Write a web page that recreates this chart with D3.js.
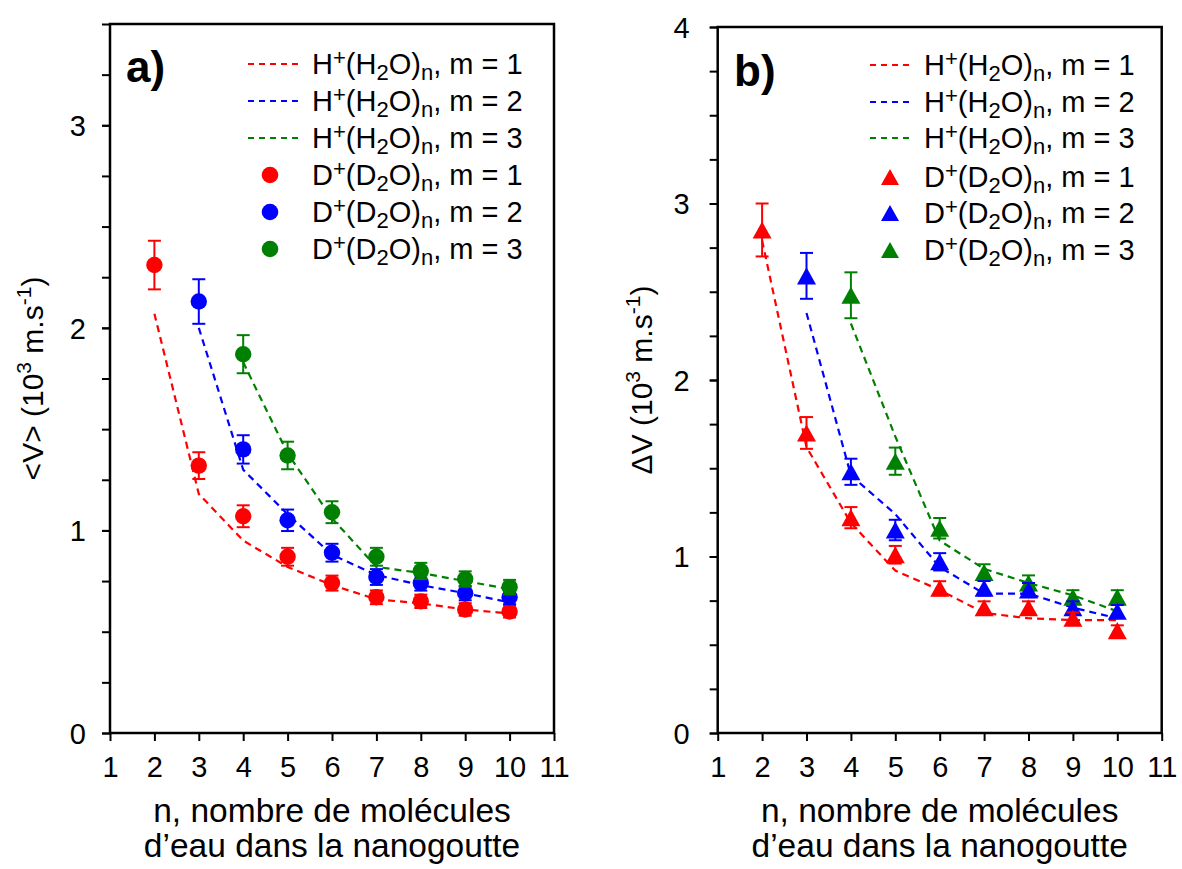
<!DOCTYPE html>
<html><head><meta charset="utf-8">
<script src="https://cdn.jsdelivr.net/npm/d3@7"></script>
<style>
body{margin:0;background:#fff}
svg{display:block}
text{font-family:"Liberation Sans",Arial,Helvetica,sans-serif;fill:#000}
</style>
</head><body>
<svg id="c" width="1182" height="869"></svg>
<script>
// ---------- data ----------
const nTicks = [1,2,3,4,5,6,7,8,9,10,11];
const yTicksA = [0,1,2,3];
const yTicksB = [0,1,2,3,4];
const minorA = [0,0.25,0.5,0.75,1,1.25,1.5,1.75,2,2.25,2.5,2.75,3,3.25,3.5];
const minorB = [0,0.25,0.5,0.75,1,1.25,1.5,1.75,2,2.25,2.5,2.75,3,3.25,3.5,3.75,4];
const n1 = [2,3,4,5,6,7,8,9,10];
const n2 = [3,4,5,6,7,8,9,10];
const n3 = [4,5,6,7,8,9,10];
const mLabels = ["1","2","3"];

// panel a) <V>
const aH1 = [2.07,1.18,0.95,0.82,0.73,0.66,0.64,0.61,0.59];
const aH2 = [2.00,1.30,1.08,0.88,0.78,0.73,0.69,0.645];
const aH3 = [1.83,1.38,1.06,0.82,0.79,0.75,0.71];
const aD1 = [2.31,1.32,1.07,0.87,0.74,0.67,0.65,0.61,0.60];
const aD1err = [0.12,0.066,0.054,0.044,0.037,0.034,0.033,0.031,0.03];
const aD2 = [2.13,1.40,1.05,0.89,0.77,0.74,0.69,0.67];
const aD2err = [0.11,0.07,0.053,0.044,0.039,0.037,0.035,0.034];
const aD3 = [1.87,1.37,1.09,0.87,0.80,0.76,0.72];
const aD3err = [0.094,0.068,0.054,0.044,0.04,0.038,0.036];

// panel b) deltaV
const bH1 = [2.79,1.62,1.19,0.92,0.81,0.68,0.65,0.64,0.64];
const bH2 = [2.38,1.46,1.24,0.94,0.79,0.79,0.71,0.65];
const bH3 = [2.32,1.68,1.09,0.93,0.85,0.78,0.69];
const bD1 = [2.85,1.70,1.22,1.01,0.82,0.71,0.71,0.65,0.58];
const bD1err = [0.15,0.09,0.06,0.05,0.04,0.036,0.036,0.033,0.03];
const bD2 = [2.59,1.48,1.15,0.97,0.82,0.81,0.71,0.69];
const bD2err = [0.13,0.074,0.058,0.049,0.041,0.04,0.036,0.035];
const bD3 = [2.48,1.54,1.16,0.91,0.85,0.77,0.77];
const bD3err = [0.13,0.077,0.058,0.046,0.043,0.039,0.039];

// ---------- drawing ----------
const svg = d3.select('#c');
const colors = ['#ff0000','#0000ff','#008000'];
const DASH = '7,5';
const LFS = 29;

function zip(ns, vs, es){ return ns.map((n,i)=>({n:n, v:vs[i], e: es ? es[i] : 0})); }

function legendText(sel, base, m, fs){
  const s = Math.round(fs*0.75);
  const up = fs*0.3, dn = fs*0.2;
  sel.append('tspan').text(base);
  sel.append('tspan').attr('font-size', s).attr('dy', -up).text('+');
  sel.append('tspan').attr('dy', up).text('(' + base);
  sel.append('tspan').attr('font-size', s).attr('dy', dn).text('2');
  sel.append('tspan').attr('dy', -dn).text('O)');
  sel.append('tspan').attr('font-size', s).attr('dy', dn).text('n');
  sel.append('tspan').attr('dy', -dn).text(', m = ' + m);
}

function triPath(size){
  const w = size*0.5, h = size*0.45;
  return `M0,${-h}L${w},${h}L${-w},${h}Z`;
}

function panel(cfg){
  const x = d3.scaleLinear().domain([1,11]).range([cfg.left, cfg.right]);
  const y = d3.scaleLinear().domain([0, cfg.ymax]).range([cfg.bottom, cfg.top]);
  const g = svg.append('g');

  const ym = g.append('g').attr('transform', `translate(${cfg.left},0)`)
    .call(d3.axisLeft(y).tickValues(cfg.minor).tickSize(8).tickFormat(''));
  ym.select('.domain').remove();
  ym.selectAll('line').attr('stroke','#000').attr('stroke-width',2);

  const ya = g.append('g').attr('transform', `translate(${cfg.left},0)`)
    .call(d3.axisLeft(y).tickValues(cfg.yTicks).tickSize(8).tickPadding(cfg.ypad).tickFormat(d3.format('d')));
  ya.select('.domain').remove();
  ya.selectAll('line').attr('stroke','#000').attr('stroke-width',2);
  ya.selectAll('text').attr('font-size', 29).attr('font-family', '"Liberation Sans",Arial,sans-serif').attr('dy','0.36em');

  const xa = g.append('g').attr('transform', `translate(0,${cfg.bottom})`)
    .call(d3.axisBottom(x).tickValues(nTicks).tickSize(8).tickPadding(15).tickFormat(d3.format('d')));
  xa.select('.domain').remove();
  xa.selectAll('line').attr('stroke','#000').attr('stroke-width',2);
  xa.selectAll('text').attr('font-size', 29).attr('font-family', '"Liberation Sans",Arial,sans-serif');

  g.append('rect').attr('x', cfg.left).attr('y', cfg.top)
    .attr('width', cfg.right - cfg.left).attr('height', cfg.bottom - cfg.top)
    .attr('fill','none').attr('stroke','#000').attr('stroke-width',2.5);

  const line = d3.line().x(d=>x(d.n)).y(d=>y(d.v));
  cfg.H.forEach((s,i)=>{
    g.append('path').datum(zip(s.n, s.v)).attr('d', line)
      .attr('fill','none').attr('stroke', colors[i]).attr('stroke-width',2.2)
      .attr('stroke-dasharray', DASH);
  });

  cfg.order.forEach(i=>{
    const s = cfg.D[i];
    const data = zip(s.n, s.v, s.e);
    const eg = g.append('g').attr('stroke', colors[i]).attr('stroke-width',2);
    data.forEach(d=>{
      eg.append('line').attr('x1',x(d.n)).attr('x2',x(d.n)).attr('y1',y(d.v-d.e)).attr('y2',y(d.v+d.e));
      eg.append('line').attr('x1',x(d.n)-6.5).attr('x2',x(d.n)+6.5).attr('y1',y(d.v+d.e)).attr('y2',y(d.v+d.e));
      eg.append('line').attr('x1',x(d.n)-6.5).attr('x2',x(d.n)+6.5).attr('y1',y(d.v-d.e)).attr('y2',y(d.v-d.e));
    });
    if (cfg.marker === 'circle'){
      g.append('g').selectAll('circle').data(data).join('circle')
        .attr('cx', d=>x(d.n)).attr('cy', d=>y(d.v)).attr('r', 8.2).attr('fill', colors[i]);
    } else {
      g.append('g').selectAll('path').data(data).join('path')
        .attr('transform', d=>`translate(${x(d.n)},${y(d.v)})`)
        .attr('d', triPath(19)).attr('fill', colors[i]);
    }
  });

  const L = cfg.legend;
  const lg = g.append('g');
  for (let i=0;i<3;i++){
    const yy = L.rows[i];
    lg.append('line').attr('x1', L.lx1).attr('x2', L.lx2).attr('y1', yy).attr('y2', yy)
      .attr('stroke', colors[i]).attr('stroke-width', 2).attr('stroke-dasharray', '6,5');
    legendText(lg.append('text').attr('x', L.tx).attr('y', yy + 10).attr('font-size', LFS), 'H', mLabels[i], LFS);
  }
  for (let i=0;i<3;i++){
    const yy = L.rows[i+3];
    if (cfg.marker === 'circle'){
      lg.append('circle').attr('cx', L.mx).attr('cy', yy).attr('r', 8.3).attr('fill', colors[i]);
    } else {
      lg.append('path').attr('transform', `translate(${L.mx},${yy})`).attr('d', triPath(18)).attr('fill', colors[i]);
    }
    legendText(lg.append('text').attr('x', L.tx).attr('y', yy + 10).attr('font-size', LFS), 'D', mLabels[i], LFS);
  }

  g.append('text').attr('x', cfg.plx).attr('y', cfg.ply).attr('font-size', 44).attr('font-weight','bold').text(cfg.panel);

  const yt = g.append('text').attr('transform', `translate(${cfg.ytx},${(cfg.top+cfg.bottom)/2}) rotate(-90)`)
    .attr('text-anchor','middle').attr('dominant-baseline','central').attr('font-size', 30);
  yt.append('tspan').text(cfg.yt + ' (10');
  yt.append('tspan').attr('font-size', 21).attr('dy', -9).text('3');
  yt.append('tspan').attr('dy', 9).text(' m.s');
  yt.append('tspan').attr('font-size', 21).attr('dy', -9).text('-1');
  yt.append('tspan').attr('dy', 9).text(')');

  const cx = (cfg.left + cfg.right)/2;
  g.append('text').attr('x', cx).attr('y', 822).attr('text-anchor','middle').attr('font-size', 33.5).text('n, nombre de molécules');
  g.append('text').attr('x', cx).attr('y', 857).attr('text-anchor','middle').attr('font-size', 33.5).text('d\u2019eau dans la nanogoutte');
}

panel({
  left:110, right:554, top:24, bottom:733, ymax:3.5,
  yTicks: yTicksA, minor: minorA, ypad: 16, marker:'circle', order:[0,1,2],
  H: [{n:n1, v:aH1},{n:n2, v:aH2},{n:n3, v:aH3}],
  D: [{n:n1, v:aD1, e:aD1err},{n:n2, v:aD2, e:aD2err},{n:n3, v:aD3, e:aD3err}],
  legend: {lx1:248, lx2:298, mx:270, tx:312, rows:[64,101,138,175,212,249]},
  panel:'a)', plx:126, ply:82, yt:'<V>', ytx:32
});
panel({
  left:717.7, right:1161.7, top:27, bottom:733, ymax:4,
  yTicks: yTicksB, minor: minorB, ypad: 20, marker:'triangle', order:[2,1,0],
  H: [{n:n1, v:bH1},{n:n2, v:bH2},{n:n3, v:bH3}],
  D: [{n:n1, v:bD1, e:bD1err},{n:n2, v:bD2, e:bD2err},{n:n3, v:bD3, e:bD3err}],
  legend: {lx1:870, lx2:909, mx:890, tx:924, rows:[65,102,138,177,213,250]},
  panel:'b)', plx:734, ply:86, yt:'\u0394V', ytx:641
});
</script>
</body></html>
